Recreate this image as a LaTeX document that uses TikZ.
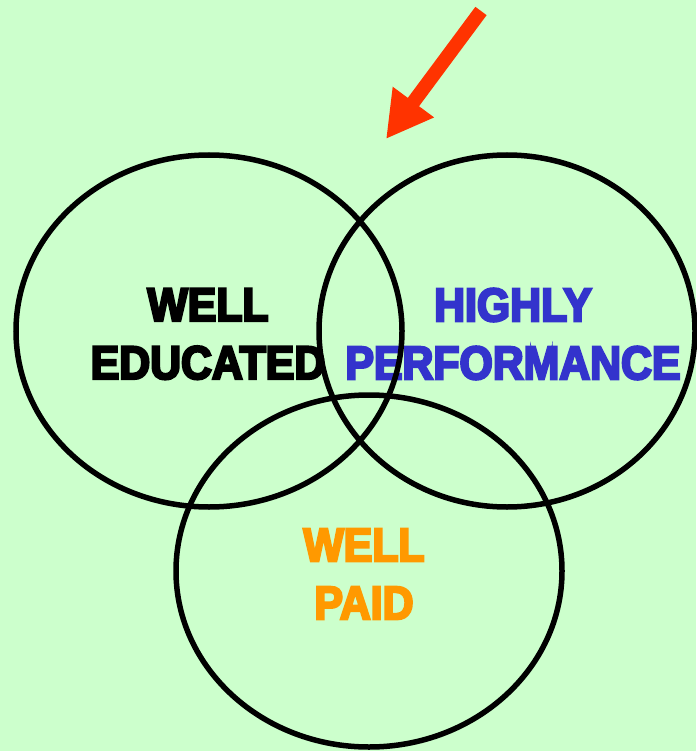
\documentclass[tikz,border=0pt]{standalone}
\usepackage{fontspec}
\usepackage{tikz}
\usetikzlibrary{arrows.meta}
\newfontfamily\vennfont[FakeStretch=0.91,FakeBold=5]{Liberation Sans Bold}
\definecolor{vennbg}{HTML}{CCFFCC}
\definecolor{vennblue}{HTML}{3333CC}
\definecolor{vennorange}{HTML}{FF9900}
\definecolor{vennred}{HTML}{FF3300}
\tikzset{
  vennlabel/.style={align=center,font=\vennfont\fontsize{47}{58}\selectfont,inner sep=0pt},
  vennring/.style={line width=5.5pt,black}
}

\begin{document}
\begin{tikzpicture}[x=1pt,y=-1pt]
\fill[vennbg] (0,0) rectangle (696,751);
\useasboundingbox (0,0) rectangle (696,751);
% labels
\node[vennlabel,text=black] (edu) at (208,334) {WELL\\EDUCATED};
\node[vennlabel,text=vennblue] (perf) at (513,334) {HIGHLY\\PERFORMANCE};
\node[vennlabel,text=vennorange] (paid) at (364,574) {WELL\\PAID};
% the three rings
\foreach \cx/\cy/\rx in {209/331/193, 507/331/188, 369/571/193} {
\draw[vennring] (\cx,\cy) ellipse [x radius=\rx, y radius=176];
}
% pointer
\coordinate (arrtail) at (481,11);
\coordinate (arrtip) at (386,139);
\draw[vennred,line width=14pt,-{Triangle[length=46pt,width=48pt]}] (arrtail) -- (arrtip);
\end{tikzpicture}
\end{document}
